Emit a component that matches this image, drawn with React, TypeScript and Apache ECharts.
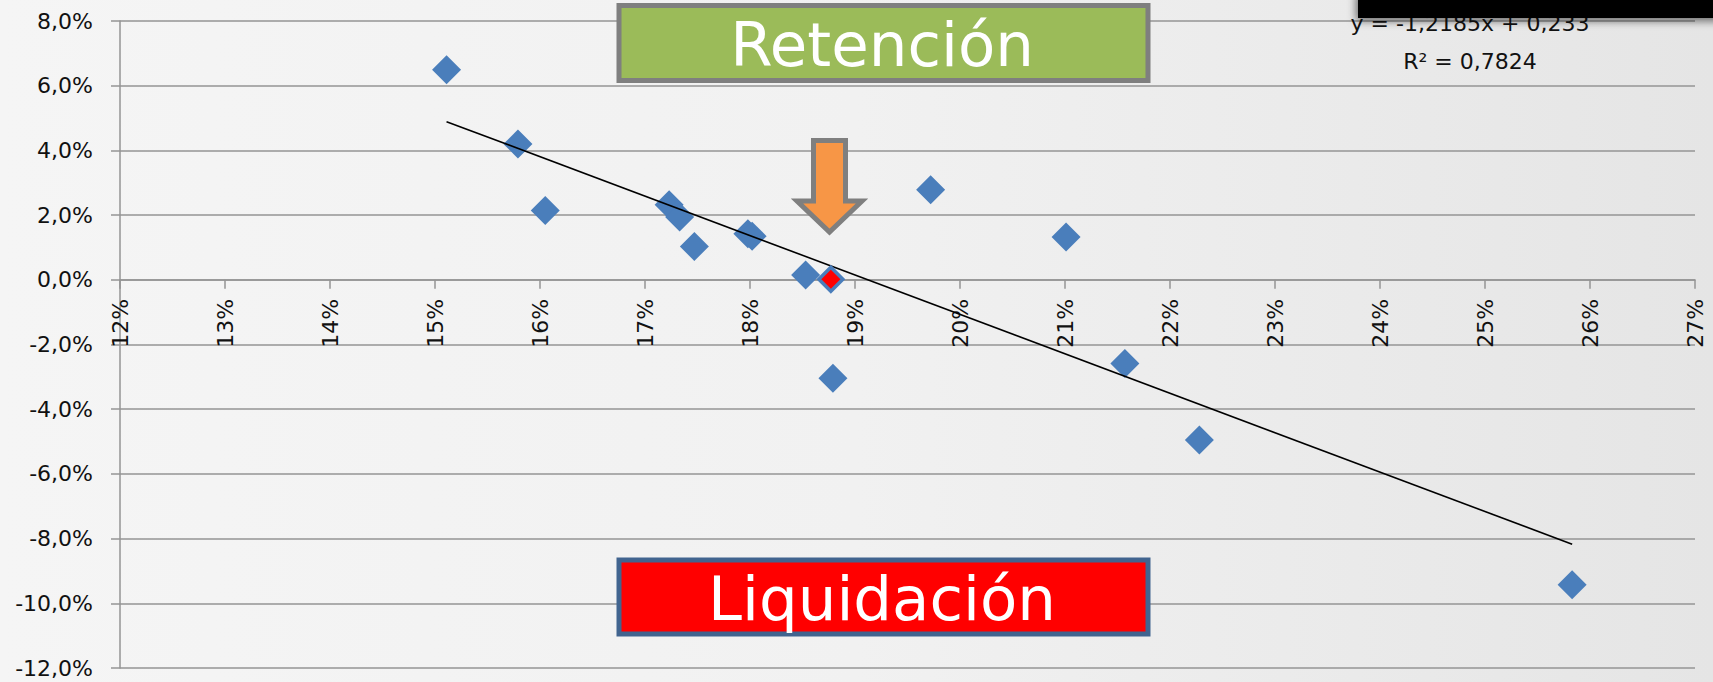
import React, { useEffect, useRef } from "react";
import * as echarts from "echarts";

// Data (percent units)
const xValues = [15.11, 15.79, 16.05, 17.23, 17.33, 17.47, 17.98, 18.02, 18.53, 18.79, 19.72, 21.01, 21.57, 22.28, 25.83];
const yValues = [6.49, 4.2, 2.14, 2.32, 1.94, 1.03, 1.42, 1.35, 0.15, -3.04, 2.78, 1.32, -2.59, -4.95, -9.43];
const highlightX = [18.77];
const highlightY = [0.02];
// Trendline from the chart's equation: y = -1,2185x + 0,233
const trendSlope = -1.2185;
const trendIntercept = 0.233;
const equationLines = ["y = -1,2185x + 0,233", "R² = 0,7824"];
const topLabel = "Retención";
const bottomLabel = "Liquidación";
const yMin = -12;
const yMax = 8;

const FONT = "DejaVu Sans";
const GRID_TOP = 21;
const GRID_BOTTOM = 14;
const HEIGHT = 682;

export default function App() {
  const ref = useRef<HTMLDivElement>(null);
  useEffect(() => {
    if (!ref.current) return;
    const chart = echarts.init(ref.current, undefined, { renderer: "svg" });
    const points = xValues.map((x, i) => [x, yValues[i]]);
    const hl = highlightX.map((x, i) => [x, highlightY[i]]);
    const xMin = Math.min(...xValues);
    const xMax = Math.max(...xValues);
    const trend = [xMin, xMax].map((x) => [x, (trendSlope * (x / 100) + trendIntercept) * 100]);
    const gridColor = "#949494";
    const plotH = HEIGHT - GRID_TOP - GRID_BOTTOM;
    const zeroOffset = -((0 - yMin) / (yMax - yMin)) * plotH;
    chart.setOption({
      animation: false,
      grid: { left: 120, right: 18, top: GRID_TOP, bottom: GRID_BOTTOM, containLabel: false },
      xAxis: {
        type: "value",
        min: 12,
        max: 27,
        interval: 1,
        offset: zeroOffset,
        axisLine: { show: true, onZero: false, lineStyle: { color: gridColor, width: 1.5 } },
        axisTick: { show: true, length: 9, lineStyle: { color: gridColor, width: 1.5 } },
        axisLabel: {
          rotate: 90,
          margin: 19,
          fontFamily: FONT,
          fontSize: 22,
          color: "#111",
          formatter: (v: number) => `${v}%`,
        },
        splitLine: { show: false },
      },
      yAxis: {
        type: "value",
        min: yMin,
        max: yMax,
        interval: 2,
        axisLine: { show: true, onZero: false, lineStyle: { color: gridColor, width: 1.5 } },
        axisTick: { show: true, length: 9, lineStyle: { color: gridColor, width: 1.5 } },
        axisLabel: {
          margin: 27,
          fontFamily: FONT,
          fontSize: 22,
          color: "#111",
          formatter: (v: number) => `${v.toFixed(1).replace(".", ",")}%`,
        },
        splitLine: { show: true, lineStyle: { color: gridColor, width: 1.5 } },
      },
      series: [
        {
          type: "scatter",
          data: points,
          symbol: "diamond",
          symbolSize: 29,
          itemStyle: { color: "#4a7ebb", opacity: 1 },
          z: 2,
        },
        {
          type: "line",
          data: trend,
          symbol: "none",
          lineStyle: { color: "#000", width: 1.6 },
          z: 3,
        },
        {
          type: "scatter",
          data: hl,
          symbol: "diamond",
          symbolSize: 24,
          itemStyle: { color: "#ff0000", borderColor: "#4a7ebb", borderWidth: 3.5, opacity: 1 },
          z: 4,
        },
      ],
      graphic: [
        {
          type: "text",
          z: 100,
          style: {
            x: 1470,
            y: 34,
            text: equationLines[0],
            fontFamily: FONT,
            fontSize: 22,
            fill: "#111",
            textAlign: "center",
            textVerticalAlign: "bottom",
          },
        },
        {
          type: "text",
          z: 100,
          style: {
            x: 1470,
            y: 72,
            text: equationLines[1],
            fontFamily: FONT,
            fontSize: 22,
            fill: "#111",
            textAlign: "center",
            textVerticalAlign: "bottom",
          },
        },
        {
          type: "rect",
          z: 101,
          shape: { x: 1358, y: -10, width: 400, height: 28 },
          style: {
            fill: "#000",
            shadowBlur: 8,
            shadowColor: "rgba(0,0,0,0.55)",
            shadowOffsetX: -2,
            shadowOffsetY: 3,
          },
        },
        {
          type: "rect",
          z: 100,
          shape: { x: 619, y: 5.5, width: 529, height: 75 },
          style: { fill: "#9bbb59", stroke: "#7f7f7f", lineWidth: 5 },
        },
        {
          type: "text",
          z: 101,
          style: {
            x: 882,
            y: 44,
            text: topLabel,
            fontFamily: FONT,
            fontSize: 61,
            fill: "#fff",
            textAlign: "center",
            textVerticalAlign: "middle",
          },
        },
        {
          type: "rect",
          z: 100,
          shape: { x: 619, y: 560, width: 529, height: 74 },
          style: { fill: "#ff0000", stroke: "#41648f", lineWidth: 5 },
        },
        {
          type: "text",
          z: 101,
          style: {
            x: 882,
            y: 598,
            text: bottomLabel,
            fontFamily: FONT,
            fontSize: 61,
            fill: "#fff",
            textAlign: "center",
            textVerticalAlign: "middle",
          },
        },
        {
          type: "polygon",
          z: 100,
          shape: {
            points: [
              [813.5, 140.5],
              [845.5, 140.5],
              [845.5, 201],
              [862, 201],
              [829.5, 232],
              [797, 201],
              [813.5, 201],
            ],
          },
          style: { fill: "#f79646", stroke: "#7f7f7f", lineWidth: 5, lineJoin: "miter" },
        },
      ],
    });
    return () => chart.dispose();
  }, []);
  return (
    <div
      style={{
        position: "fixed",
        left: 0,
        top: 0,
        width: 1713,
        height: 682,
        background: "linear-gradient(to right, #f5f5f5 0%, #f1f1f1 50%, #e5e5e5 100%)",
      }}
    >
      <div ref={ref} style={{ width: 1713, height: 682 }} />
    </div>
  );
}
